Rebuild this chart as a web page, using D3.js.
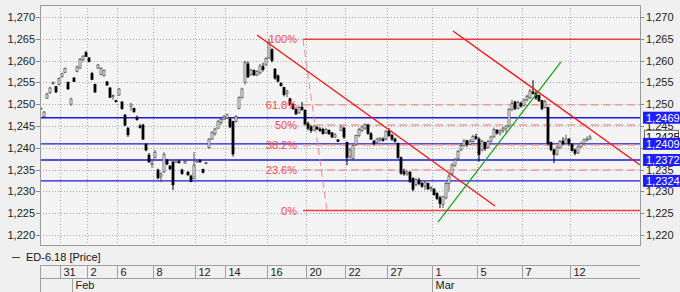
<!DOCTYPE html>
<html>
<head>
<meta charset="utf-8">
<script src="https://cdn.jsdelivr.net/npm/d3@7"></script>
<style>
  body { margin: 0; background: #f0f0f0; }
  svg { display: block; font-family: "Liberation Sans", Arial, sans-serif; font-size: 11px; }
</style>
</head>
<body>
<svg id="chart" width="680" height="292"></svg>
<script>
// intraday bars, [open, high, low, close]
const candles = [
  [1.2490, 1.2492, 1.2488, 1.2491], [1.2472, 1.2484, 1.2470, 1.2482], [1.2514, 1.2526, 1.2512, 1.2523],
  [1.2526, 1.2540, 1.2524, 1.2537], [1.2547, 1.2552, 1.2545, 1.2550], [1.2540, 1.2542, 1.2526, 1.2528],
  [1.2545, 1.2561, 1.2543, 1.2559], [1.2563, 1.2572, 1.2561, 1.2570], [1.2573, 1.2584, 1.2571, 1.2582],
  [1.2550, 1.2552, 1.2533, 1.2535], [1.2500, 1.2515, 1.2496, 1.2512], [1.2560, 1.2562, 1.2551, 1.2552],
  [1.2575, 1.2588, 1.2573, 1.2586], [1.2583, 1.2606, 1.2581, 1.2603], [1.2602, 1.2612, 1.2598, 1.2610],
  [1.2618, 1.2622, 1.2608, 1.2610], [1.2606, 1.2608, 1.2596, 1.2598], [1.2570, 1.2574, 1.2555, 1.2557],
  [1.2545, 1.2547, 1.2526, 1.2528], [1.2583, 1.2592, 1.2581, 1.2590], [1.2568, 1.2585, 1.2566, 1.2582],
  [1.2566, 1.2580, 1.2563, 1.2577], [1.2551, 1.2553, 1.2542, 1.2544], [1.2537, 1.2539, 1.2514, 1.2516],
  [1.2518, 1.2522, 1.2510, 1.2520], [1.2508, 1.2510, 1.2504, 1.2506], [1.2521, 1.2537, 1.2519, 1.2535],
  [1.2505, 1.2507, 1.2487, 1.2490], [1.2475, 1.2477, 1.2450, 1.2452], [1.2445, 1.2447, 1.2425, 1.2430],
  [1.2495, 1.2503, 1.2485, 1.2500], [1.2490, 1.2492, 1.2480, 1.2483], [1.2470, 1.2474, 1.2462, 1.2465],
  [1.2450, 1.2454, 1.2444, 1.2447], [1.2452, 1.2455, 1.2418, 1.2420], [1.2408, 1.2410, 1.2392, 1.2395],
  [1.2383, 1.2388, 1.2365, 1.2368], [1.2362, 1.2370, 1.2354, 1.2365], [1.2378, 1.2395, 1.2375, 1.2390],
  [1.2349, 1.2352, 1.2328, 1.2331], [1.2335, 1.2344, 1.2321, 1.2340], [1.2345, 1.2390, 1.2342, 1.2385],
  [1.2372, 1.2374, 1.2360, 1.2363], [1.2358, 1.2360, 1.2349, 1.2352], [1.2367, 1.2370, 1.2303, 1.2315],
  [1.2367, 1.2372, 1.2365, 1.2370], [1.2368, 1.2372, 1.2364, 1.2366], [1.2349, 1.2352, 1.2338, 1.2341],
  [1.2365, 1.2372, 1.2364, 1.2369], [1.2344, 1.2346, 1.2336, 1.2338], [1.2335, 1.2338, 1.2321, 1.2323],
  [1.2330, 1.2390, 1.2328, 1.2360], [1.2367, 1.2372, 1.2366, 1.2370], [1.2370, 1.2374, 1.2366, 1.2368],
  [1.2350, 1.2352, 1.2341, 1.2344], [1.2364, 1.2368, 1.2362, 1.2366], [1.2400, 1.2422, 1.2398, 1.2420],
  [1.2420, 1.2438, 1.2418, 1.2435], [1.2432, 1.2446, 1.2428, 1.2443], [1.2445, 1.2464, 1.2443, 1.2460],
  [1.2458, 1.2468, 1.2452, 1.2465], [1.2466, 1.2475, 1.2463, 1.2472], [1.2468, 1.2478, 1.2466, 1.2476],
  [1.2466, 1.2468, 1.2445, 1.2448], [1.2460, 1.2462, 1.2380, 1.2386], [1.2460, 1.2475, 1.2458, 1.2472],
  [1.2490, 1.2518, 1.2488, 1.2515], [1.2515, 1.2538, 1.2513, 1.2535], [1.2550, 1.2600, 1.2545, 1.2596],
  [1.2592, 1.2598, 1.2560, 1.2563], [1.2568, 1.2582, 1.2565, 1.2578], [1.2577, 1.2580, 1.2565, 1.2567],
  [1.2567, 1.2578, 1.2564, 1.2575], [1.2572, 1.2592, 1.2568, 1.2588], [1.2586, 1.2595, 1.2575, 1.2580],
  [1.2590, 1.2608, 1.2588, 1.2605], [1.2606, 1.2650, 1.2604, 1.2640], [1.2625, 1.2628, 1.2596, 1.2600],
  [1.2580, 1.2583, 1.2556, 1.2560], [1.2565, 1.2568, 1.2550, 1.2553], [1.2548, 1.2550, 1.2540, 1.2543],
  [1.2538, 1.2540, 1.2518, 1.2522], [1.2525, 1.2533, 1.2516, 1.2530], [1.2512, 1.2515, 1.2497, 1.2500],
  [1.2500, 1.2502, 1.2487, 1.2490], [1.2488, 1.2492, 1.2475, 1.2478], [1.2480, 1.2496, 1.2478, 1.2493],
  [1.2493, 1.2505, 1.2485, 1.2488], [1.2486, 1.2488, 1.2452, 1.2455], [1.2455, 1.2460, 1.2440, 1.2445],
  [1.2448, 1.2452, 1.2434, 1.2440], [1.2440, 1.2452, 1.2438, 1.2450], [1.2447, 1.2450, 1.2441, 1.2443],
  [1.2443, 1.2447, 1.2436, 1.2440], [1.2442, 1.2446, 1.2430, 1.2433], [1.2434, 1.2445, 1.2432, 1.2442],
  [1.2440, 1.2442, 1.2430, 1.2432], [1.2434, 1.2436, 1.2422, 1.2425], [1.2424, 1.2434, 1.2422, 1.2430],
  [1.2418, 1.2420, 1.2413, 1.2415], [1.2440, 1.2452, 1.2438, 1.2448], [1.2445, 1.2448, 1.2420, 1.2425],
  [1.2412, 1.2414, 1.2360, 1.2378], [1.2380, 1.2400, 1.2375, 1.2395], [1.2375, 1.2408, 1.2372, 1.2405],
  [1.2408, 1.2430, 1.2405, 1.2428], [1.2428, 1.2446, 1.2424, 1.2442], [1.2440, 1.2452, 1.2436, 1.2448],
  [1.2445, 1.2456, 1.2441, 1.2453], [1.2452, 1.2455, 1.2430, 1.2433], [1.2432, 1.2436, 1.2418, 1.2420],
  [1.2415, 1.2418, 1.2405, 1.2410], [1.2412, 1.2423, 1.2410, 1.2420], [1.2418, 1.2424, 1.2413, 1.2422],
  [1.2420, 1.2424, 1.2414, 1.2417], [1.2420, 1.2441, 1.2418, 1.2438], [1.2438, 1.2445, 1.2425, 1.2428],
  [1.2428, 1.2432, 1.2416, 1.2420], [1.2420, 1.2423, 1.2412, 1.2415], [1.2410, 1.2412, 1.2375, 1.2378],
  [1.2377, 1.2380, 1.2338, 1.2342], [1.2345, 1.2352, 1.2336, 1.2340], [1.2340, 1.2348, 1.2336, 1.2345],
  [1.2344, 1.2346, 1.2320, 1.2322], [1.2330, 1.2332, 1.2300, 1.2305], [1.2315, 1.2330, 1.2312, 1.2327],
  [1.2326, 1.2331, 1.2314, 1.2318], [1.2318, 1.2322, 1.2308, 1.2312], [1.2312, 1.2325, 1.2303, 1.2320],
  [1.2318, 1.2320, 1.2303, 1.2306], [1.2306, 1.2312, 1.2300, 1.2309], [1.2305, 1.2307, 1.2290, 1.2293],
  [1.2295, 1.2298, 1.2280, 1.2284], [1.2285, 1.2290, 1.2262, 1.2272], [1.2270, 1.2290, 1.2262, 1.2288],
  [1.2285, 1.2322, 1.2282, 1.2318], [1.2318, 1.2340, 1.2300, 1.2335], [1.2340, 1.2365, 1.2338, 1.2360],
  [1.2360, 1.2377, 1.2356, 1.2372], [1.2375, 1.2395, 1.2370, 1.2392], [1.2395, 1.2410, 1.2392, 1.2405],
  [1.2405, 1.2420, 1.2402, 1.2416], [1.2416, 1.2418, 1.2402, 1.2408], [1.2408, 1.2420, 1.2405, 1.2415],
  [1.2414, 1.2430, 1.2412, 1.2426], [1.2425, 1.2432, 1.2418, 1.2422], [1.2420, 1.2424, 1.2368, 1.2385],
  [1.2395, 1.2418, 1.2392, 1.2415], [1.2412, 1.2414, 1.2393, 1.2398], [1.2400, 1.2418, 1.2398, 1.2414],
  [1.2414, 1.2428, 1.2412, 1.2425], [1.2425, 1.2446, 1.2422, 1.2442], [1.2440, 1.2443, 1.2430, 1.2434],
  [1.2434, 1.2442, 1.2428, 1.2440], [1.2440, 1.2448, 1.2434, 1.2445], [1.2445, 1.2452, 1.2436, 1.2450],
  [1.2450, 1.2492, 1.2446, 1.2488], [1.2488, 1.2510, 1.2484, 1.2502], [1.2505, 1.2508, 1.2486, 1.2490],
  [1.2490, 1.2508, 1.2488, 1.2504], [1.2502, 1.2506, 1.2492, 1.2496], [1.2497, 1.2513, 1.2495, 1.2510],
  [1.2510, 1.2522, 1.2506, 1.2518], [1.2515, 1.2535, 1.2512, 1.2530], [1.2528, 1.2555, 1.2522, 1.2525],
  [1.2525, 1.2530, 1.2510, 1.2514], [1.2520, 1.2522, 1.2505, 1.2508], [1.2508, 1.2510, 1.2486, 1.2490],
  [1.2492, 1.2510, 1.2490, 1.2506], [1.2492, 1.2494, 1.2405, 1.2410], [1.2412, 1.2414, 1.2392, 1.2396],
  [1.2395, 1.2398, 1.2365, 1.2385], [1.2385, 1.2405, 1.2382, 1.2400], [1.2400, 1.2418, 1.2398, 1.2415],
  [1.2415, 1.2424, 1.2405, 1.2410], [1.2410, 1.2430, 1.2408, 1.2420], [1.2420, 1.2422, 1.2405, 1.2410],
  [1.2408, 1.2410, 1.2392, 1.2394], [1.2395, 1.2398, 1.2383, 1.2388], [1.2388, 1.2406, 1.2386, 1.2402],
  [1.2402, 1.2414, 1.2400, 1.2410], [1.2410, 1.2422, 1.2406, 1.2418], [1.2418, 1.2426, 1.2414, 1.2420],
  [1.2420, 1.2430, 1.2418, 1.2425]
]

// time axis: first bar of each labelled day / month
const dayLabels = ['31', '2', '6', '8', '12', '14', '16', '20', '22', '27', '1', '5', '7', '12']
const dayStarts = [7, 16, 26, 38, 52, 62, 76, 89, 102, 116, 131, 146, 161, 177]
const monthLabels = ['Feb', 'Mar']
const monthStarts = [11, 131]

const priceTicks = [1.220, 1.225, 1.230, 1.235, 1.240, 1.245, 1.250, 1.255, 1.260, 1.265, 1.270]
const supportLevels = [1.2469, 1.2409, 1.2372, 1.2324]
const lastPrice = 1.2425
const seriesName = 'ED-6.18 [Price]'

// fibonacci retracement (anchored at bar positions)
const fibHigh = 1.2649
const fibLow = 1.2256
const fibRatios = [1, 0.618, 0.5, 0.382, 0.236, 0]
const fibLabels = ['100%', '61.8%', '50%', '38.2%', '23.6%', '0%']
const fibAnchor = [87.33, 95.33]

// hand drawn trend lines: [[bar, price], [bar, price]]
const redChannel = [
  [[72, 1.26587], [151.33, 1.22664]],
  [[137.33, 1.26679], [199.67, 1.23605]]
]
const greenTrend = [[132.33, 1.22297], [173.33, 1.25968]]

const plot = {left: 40, right: 640, top: 5, bottom: 245}
const fmt3 = (v) => d3.format('.3f')(v).replace('.', ',')
const fmt4 = (v) => d3.format('.4f')(v).replace('.', ',')
const crisp = (v) => Math.round(v) + 0.5

let svg = d3.select('#chart')

let x = d3.scaleLinear().domain([-1 / 3, 199.67]).range([plot.left, plot.right])
let y = d3.scaleLinear().domain([1.2177, 1.27275]).range([plot.bottom, plot.top])

svg.append('defs').append('clipPath').attr('id', 'plot-clip')
  .append('rect')
  .attr('x', plot.left).attr('y', plot.top)
  .attr('width', plot.right - plot.left).attr('height', plot.bottom - plot.top)

// plot background
svg.append('rect')
  .attr('x', plot.left + 0.5).attr('y', plot.top + 0.5)
  .attr('width', plot.right - plot.left).attr('height', plot.bottom - plot.top)
  .attr('fill', '#f4f4f4')

// grid
let grid = svg.append('g').attr('stroke', '#a8a8a8').attr('stroke-dasharray', '1,2')
grid.selectAll('.h-grid').data(priceTicks).join('line')
  .attr('x1', plot.left).attr('x2', plot.right)
  .attr('y1', (d) => crisp(y(d))).attr('y2', (d) => crisp(y(d)))
grid.selectAll('.v-grid').data(dayStarts).join('line')
  .attr('x1', (d) => crisp(x(d - 0.5))).attr('x2', (d) => crisp(x(d - 0.5)))
  .attr('y1', plot.top).attr('y2', plot.bottom)

let inner = svg.append('g').attr('clip-path', 'url(#plot-clip)')

// support / resistance levels
inner.selectAll('.level').data(supportLevels).join('line')
  .attr('x1', plot.left).attr('x2', plot.right)
  .attr('y1', (d) => y(d)).attr('y2', (d) => y(d))
  .attr('stroke', '#1c1cd8').attr('stroke-width', 1.4)

// fibonacci levels
let fibPrice = (r) => fibLow + r * (fibHigh - fibLow)
inner.selectAll('.fib').data(fibRatios).join('line')
  .attr('x1', x(fibAnchor[0])).attr('x2', plot.right)
  .attr('y1', (d) => y(fibPrice(d))).attr('y2', (d) => y(fibPrice(d)))
  .attr('stroke', (d) => (d === 1 || d === 0) ? '#f03c3c' : '#f29a9a')
  .attr('stroke-width', (d) => (d === 1 || d === 0) ? 1.6 : 1.5)
  .attr('stroke-dasharray', (d) => (d === 1 || d === 0) ? null : '8,4')

inner.append('line')
  .attr('x1', x(fibAnchor[0])).attr('y1', y(fibHigh))
  .attr('x2', x(fibAnchor[1])).attr('y2', y(fibLow))
  .attr('stroke', '#f08a8a').attr('stroke-width', 1)
  .attr('stroke-dasharray', '7,4')

svg.selectAll('.fib-label').data(fibRatios).join('text')
  .attr('x', x(fibAnchor[0]) - 6)
  .attr('y', (d) => y(fibPrice(d)) + 4)
  .attr('text-anchor', 'end')
  .attr('fill', '#ff4646')
  .style('font-size', '11px')
  .text((d, i) => fibLabels[i])

// candles
let bars = inner.selectAll('.candle').data(candles).join('g')
bars.append('line')
  .attr('x1', (d, i) => x(i)).attr('x2', (d, i) => x(i))
  .attr('y1', (d) => y(d[1])).attr('y2', (d) => y(d[2]))
  .attr('stroke', (d) => d[3] < d[0] ? '#000' : '#555')
bars.append('rect')
  .attr('x', (d, i) => x(i) - 1)
  .attr('width', 2)
  .attr('y', (d) => y(Math.max(d[0], d[3])))
  .attr('height', (d) => Math.max(1, Math.abs(y(d[0]) - y(d[3]))))
  .attr('fill', (d) => d[3] < d[0] ? '#000' : '#fff')
  .attr('stroke', (d) => d[3] < d[0] ? '#000' : '#555')
  .attr('stroke-width', 0.8)

// trend lines
let trend = d3.line().x((d) => x(d[0])).y((d) => y(d[1]))
inner.selectAll('.channel').data(redChannel).join('path')
  .attr('d', trend)
  .attr('fill', 'none').attr('stroke', '#ff1010').attr('stroke-width', 1.3)
inner.append('path').datum(greenTrend)
  .attr('d', trend)
  .attr('fill', 'none').attr('stroke', '#16a016').attr('stroke-width', 1.2)

// frame
svg.append('rect')
  .attr('x', plot.left + 0.5).attr('y', plot.top + 0.5)
  .attr('width', plot.right - plot.left).attr('height', plot.bottom - plot.top)
  .attr('fill', 'none').attr('stroke', '#9a9a9a')

// price axes
let axisColor = '#222'
svg.selectAll('.tick-l').data(priceTicks).join('line')
  .attr('x1', plot.left - 4).attr('x2', plot.left)
  .attr('y1', (d) => crisp(y(d))).attr('y2', (d) => crisp(y(d)))
  .attr('stroke', '#888')
svg.selectAll('.tick-r').data(priceTicks).join('line')
  .attr('x1', plot.right).attr('x2', plot.right + 4)
  .attr('y1', (d) => crisp(y(d))).attr('y2', (d) => crisp(y(d)))
  .attr('stroke', '#888')
svg.selectAll('.label-l').data(priceTicks).join('text')
  .attr('x', plot.left - 5).attr('y', (d) => y(d) + 4)
  .attr('text-anchor', 'end').attr('fill', axisColor)
  .text(fmt3)

// right labels fully hidden behind a level marker are left out
let hidden = (t) => supportLevels.some((v) => Math.abs(y(v) - y(t)) < 5)
svg.selectAll('.label-r').data(priceTicks.filter((t) => !hidden(t))).join('text')
  .attr('x', plot.right + 6).attr('y', (d) => y(d) + 4)
  .attr('fill', axisColor)
  .text(fmt3)

// last price box
svg.append('rect')
  .attr('x', plot.right + 4.5).attr('y', y(lastPrice) - 6.5)
  .attr('width', 34).attr('height', 12)
  .attr('fill', '#f7f7f7').attr('stroke', '#666')
svg.append('text')
  .attr('x', plot.right + 6).attr('y', y(lastPrice) + 4)
  .attr('fill', '#000')
  .text(fmt4(lastPrice))

// level markers on the right axis
let markers = svg.selectAll('.marker').data(supportLevels).join('g')
markers.append('rect')
  .attr('x', plot.right + 3).attr('y', (d) => y(d) - 6)
  .attr('width', 37).attr('height', 12)
  .attr('fill', '#1e1eff')
markers.append('text')
  .attr('x', plot.right + 6).attr('y', (d) => y(d) + 4)
  .attr('fill', '#fff')
  .text(fmt4)

// legend
svg.append('line')
  .attr('x1', 12).attr('x2', 20).attr('y1', 257.5).attr('y2', 257.5)
  .attr('stroke', '#444')
svg.append('text')
  .attr('x', 26).attr('y', 261)
  .attr('fill', '#111')
  .text(seriesName)

// date table
let table = svg.append('g').attr('stroke', '#a0a0a0')
table.append('line').attr('x1', plot.left).attr('x2', plot.right).attr('y1', 265.5).attr('y2', 265.5)
table.append('line').attr('x1', plot.left).attr('x2', plot.right).attr('y1', 278.5).attr('y2', 278.5)
table.append('line').attr('x1', plot.left + 0.5).attr('x2', plot.left + 0.5).attr('y1', 265).attr('y2', 292)
table.selectAll('.day-div').data(dayStarts).join('line')
  .attr('x1', (d) => crisp(x(d - 0.5))).attr('x2', (d) => crisp(x(d - 0.5)))
  .attr('y1', 265).attr('y2', 278)
table.selectAll('.month-div').data(monthStarts).join('line')
  .attr('x1', (d) => crisp(x(d - 0.5))).attr('x2', (d) => crisp(x(d - 0.5)))
  .attr('y1', 278).attr('y2', 292)

svg.selectAll('.day-label').data(dayStarts).join('text')
  .attr('x', (d) => crisp(x(d - 0.5)) + 3).attr('y', 276)
  .attr('fill', axisColor)
  .text((d, i) => dayLabels[i])
svg.selectAll('.month-label').data(monthStarts).join('text')
  .attr('x', (d) => crisp(x(d - 0.5)) + 3).attr('y', 289)
  .attr('fill', axisColor)
  .text((d, i) => monthLabels[i])
</script>
